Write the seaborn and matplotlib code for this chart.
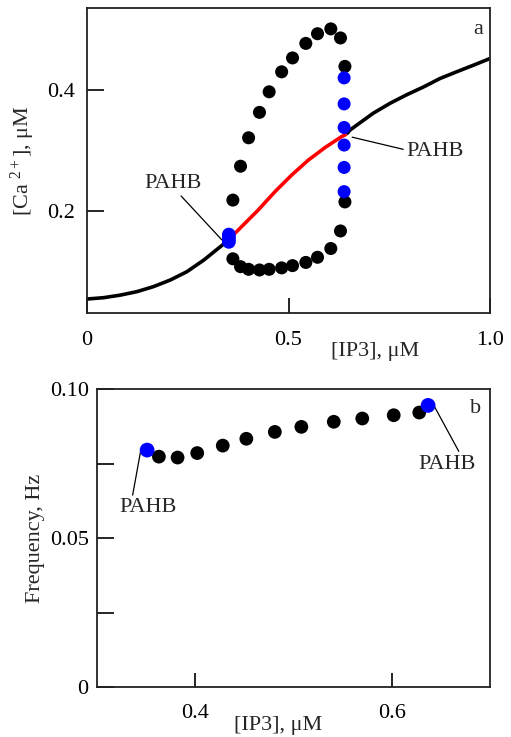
import matplotlib
matplotlib.use("Agg")
import matplotlib.pyplot as plt
import seaborn as sns

# ---------------- data ----------------
# Panel a: steady-state branch (stable parts black, unstable part red)
ss_left_x = [0.0, 0.041, 0.083, 0.124, 0.165, 0.207, 0.248, 0.29, 0.331, 0.352]
ss_left_y = [0.0545, 0.0567, 0.061, 0.0667, 0.075, 0.086, 0.0997, 0.119, 0.141, 0.152]
ss_unst_x = [0.352, 0.367, 0.425, 0.4665, 0.508, 0.549, 0.591, 0.632, 0.644]
ss_unst_y = [0.152, 0.163, 0.2017, 0.232, 0.2595, 0.284, 0.305, 0.323, 0.327]
ss_right_x = [0.644, 0.653, 0.710, 0.752, 0.793, 0.835, 0.876, 0.917, 0.959, 1.0]
ss_right_y = [0.327, 0.334, 0.3615, 0.378, 0.392, 0.405, 0.419, 0.430, 0.441, 0.452]

# Periodic orbit extrema (max and min)
orb_x = [0.362, 0.381, 0.401, 0.428, 0.452, 0.483, 0.510, 0.543, 0.572, 0.605, 0.629, 0.640]
orb_max = [0.218, 0.274, 0.321, 0.363, 0.397, 0.430, 0.453, 0.477, 0.493, 0.501, 0.486, 0.439]
orb_min = [0.121, 0.108, 0.1036, 0.1025, 0.1036, 0.106, 0.1097, 0.115, 0.1235, 0.138, 0.167, 0.215]

# Blue points near the Hopf bifurcations
hb_left_x = [0.352, 0.352, 0.352, 0.352]
hb_left_y = [0.161, 0.157, 0.153, 0.149]
hb_right_x = [0.638, 0.638, 0.638, 0.638, 0.638, 0.638]
hb_right_y = [0.420, 0.377, 0.338, 0.309, 0.272, 0.232]

# Panel b: oscillation frequency
freq_x = [0.363, 0.382, 0.402, 0.428, 0.452, 0.481, 0.508, 0.541, 0.570, 0.602, 0.628]
freq_y = [0.0773, 0.0770, 0.0785, 0.0810, 0.0833, 0.0856, 0.0873, 0.0890, 0.0901, 0.0912, 0.0921]
freq_hb_x = [0.351, 0.637]
freq_hb_y = [0.0795, 0.0945]

# ---------------- style ----------------
sns.set_style("ticks")
plt.rcParams['font.family'] = ['Liberation Serif', 'DejaVu Serif']
plt.rcParams['mathtext.fontset'] = 'custom'
plt.rcParams['mathtext.rm'] = 'Liberation Serif'
plt.rcParams['mathtext.it'] = 'Liberation Serif:italic'
FS = 16

fig = plt.figure(figsize=(5.11, 7.37), dpi=100)
W, H = 511, 737
ax1 = fig.add_axes([87 / W, 1 - 313 / H, 403 / W, 305 / H])
ax2 = fig.add_axes([97 / W, 1 - 687 / H, 393 / W, 298 / H])

MS = 88
LW = 2.6

# ---------- panel a ----------
line_kw = dict(sort=False, estimator=None, solid_joinstyle='round', solid_capstyle='butt')
sns.lineplot(x=ss_left_x, y=ss_left_y, ax=ax1, color='black', lw=LW, **line_kw)
sns.lineplot(x=ss_right_x, y=ss_right_y, ax=ax1, color='black', lw=LW, **line_kw)
sns.lineplot(x=ss_unst_x, y=ss_unst_y, ax=ax1, color='#ff0000', lw=LW, **line_kw)
sns.scatterplot(x=orb_x, y=orb_max, ax=ax1, color='black', s=MS, edgecolor='none', zorder=3)
sns.scatterplot(x=orb_x, y=orb_min, ax=ax1, color='black', s=MS, edgecolor='none', zorder=3)
sns.scatterplot(x=hb_left_x, y=hb_left_y, ax=ax1, color='#0000ff', s=MS + 10, edgecolor='none', zorder=4)
sns.scatterplot(x=hb_right_x, y=hb_right_y, ax=ax1, color='#0000ff', s=MS, edgecolor='none', zorder=4)

ax1.set_xlim(0, 1.0)
ax1.set_ylim(0.0314, 0.5355)
ax1.set_xticks([0, 0.5, 1.0])
ax1.set_xticklabels(['0', '0.5', '1.0'])
ax1.set_yticks([0.2, 0.4])
ax1.set_yticklabels(['0.2', '0.4'])
ax1.tick_params(axis='x', direction='in', length=11, width=1.2, pad=13, labelsize=FS)
ax1.tick_params(axis='y', direction='in', length=12, width=1.2, pad=9, labelsize=FS)
ax1.set_xlabel('[IP3], μM', fontsize=FS)
ax1.set_ylabel(r'[Ca $^{2+}$], μM', fontsize=FS)
ax1.xaxis.set_label_coords(0.715, -0.095)
ax1.yaxis.set_label_coords(-0.124, 0.5)
ax1.text(0.97, 0.93, 'a', transform=ax1.transAxes, ha='center', va='center', fontsize=FS)

ax1.annotate('PAHB', xy=(0.335, 0.152), xytext=(0.213, 0.246), textcoords='data',
             ha='center', va='center', fontsize=FS,
             arrowprops=dict(arrowstyle='-', color='black', lw=0.9, shrinkA=0, shrinkB=0, relpos=(0.59, 0.0)))
ax1.annotate('PAHB', xy=(0.658, 0.322), xytext=(0.864, 0.2975), textcoords='data',
             ha='center', va='center', fontsize=FS,
             arrowprops=dict(arrowstyle='-', color='black', lw=0.9, shrinkA=0, shrinkB=0, relpos=(0.0, 0.6)))

# ---------- panel b ----------
sns.scatterplot(x=freq_x, y=freq_y, ax=ax2, color='black', s=MS + 10, edgecolor='none', zorder=3)
sns.scatterplot(x=freq_hb_x, y=freq_hb_y, ax=ax2, color='#0000ff', s=MS + 25, edgecolor='none', zorder=4)

ax2.set_xlim(0.3, 0.7)
ax2.set_ylim(0, 0.10)
ax2.set_xticks([0.4, 0.6])
ax2.set_xticklabels(['0.4', '0.6'])
ax2.set_yticks([0, 0.025, 0.05, 0.075, 0.10])
ax2.set_yticklabels(['0', '', '0.05', '', '0.10'])
ax2.tick_params(axis='x', direction='in', length=10, width=1.2, pad=12, labelsize=FS)
ax2.tick_params(axis='y', direction='in', length=12, width=1.2, pad=6, labelsize=FS)
ax2.set_xlabel('[IP3], μM', fontsize=FS)
ax2.set_ylabel('Frequency, Hz', fontsize=FS)
ax2.xaxis.set_label_coords(0.461, -0.098)
ax2.yaxis.set_label_coords(-0.132, 0.5)
ax2.text(0.962, 0.933, 'b', transform=ax2.transAxes, ha='center', va='center', fontsize=FS)

ax2.annotate('PAHB', xy=(0.345, 0.0802), xytext=(0.352, 0.0601), textcoords='data',
             ha='center', va='center', fontsize=FS,
             arrowprops=dict(arrowstyle='-', color='black', lw=0.9, shrinkA=0, shrinkB=0, relpos=(0.22, 1.0)))
ax2.annotate('PAHB', xy=(0.641, 0.0956), xytext=(0.656, 0.0748), textcoords='data',
             ha='center', va='center', fontsize=FS,
             arrowprops=dict(arrowstyle='-', color='black', lw=0.9, shrinkA=0, shrinkB=0, relpos=(0.74, 1.0)))

for ax in (ax1, ax2):
    for sp in ax.spines.values():
        sp.set_visible(True)
        sp.set_linewidth(1.3)
        sp.set_color('#222222')
    ax.tick_params(colors='black', top=False, right=False)
    if ax.get_legend() is not None:
        ax.get_legend().remove()

fig.savefig('out.png', dpi=100)
